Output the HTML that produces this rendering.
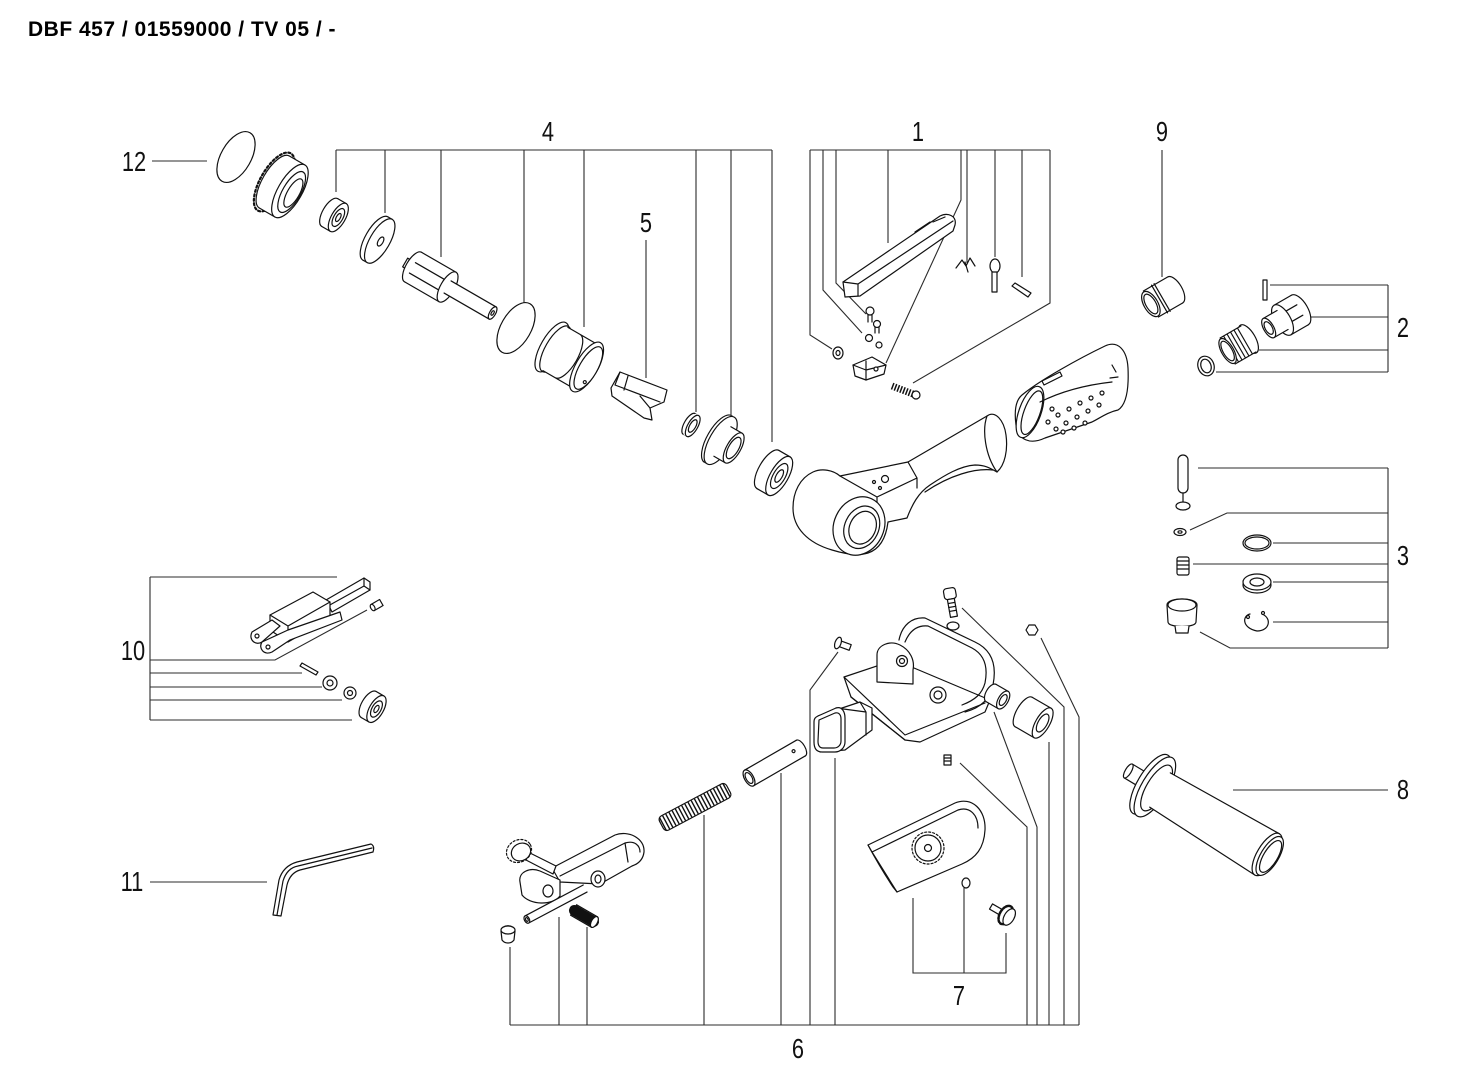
<!DOCTYPE html>
<html><head><meta charset="utf-8">
<style>
html,body{margin:0;padding:0;background:#fff;}
svg{display:block}
.h{font-family:"Liberation Sans",sans-serif;font-weight:bold;font-size:21px;letter-spacing:0.5px;fill:#000}
.n{font-family:"Liberation Sans",sans-serif;font-size:28px;fill:#111}
.l{stroke:#2b2b2b;stroke-width:1.1;fill:none}
.p{stroke:#111;stroke-width:1.2;fill:#fff;stroke-linejoin:round;stroke-linecap:round}
.f{fill:none}
</style></head><body>
<svg width="1482" height="1070" viewBox="0 0 1482 1070" xmlns="http://www.w3.org/2000/svg">
<rect width="1482" height="1070" fill="#fff"/>
<text class="h" x="28" y="36">DBF 457 / 01559000 / TV 05 / -</text>

<!-- labels -->
<g class="n" text-anchor="middle">
<text transform="translate(134,171) scale(0.78,1)">12</text>
<text transform="translate(548,141) scale(0.78,1)">4</text>
<text transform="translate(646,232) scale(0.78,1)">5</text>
<text transform="translate(918,141) scale(0.78,1)">1</text>
<text transform="translate(1162,141) scale(0.78,1)">9</text>
<text transform="translate(1403,337) scale(0.78,1)">2</text>
<text transform="translate(1403,565) scale(0.78,1)">3</text>
<text transform="translate(1403,799) scale(0.78,1)">8</text>
<text transform="translate(133,660) scale(0.78,1)">10</text>
<text transform="translate(132,891) scale(0.78,1)">11</text>
<text transform="translate(959,1005) scale(0.78,1)">7</text>
<text transform="translate(798,1058) scale(0.78,1)">6</text>
</g>

<!-- leader lines -->
<path class="l" d="
M152,161 H207
M336,150 H772 M336,150 V192 M385,150 V213 M441,150 V257 M524,150 V303 M584,150 V327 M696,150 V412 M731,150 V415 M772,150 V442
M646,240 V378
M810,150 H1050 M810,150 V335 L832,349 M823,150 V290 L862,333 M836,150 V283 L866,314 M888,150 V243 M961,150 V200 L886,363 M967,150 V263 M995,150 V257 M1022,150 V277 M1050,150 V303 L913,383
M1162,150 V277
M1388,285 V372 M1270,285 H1388 M1311,317 H1388 M1259,350 H1388 M1216,372 H1388
M1388,468 V648 M1198,468 H1388 M1190,530 L1227,513 H1388 M1273,543 H1388 M1193,564 H1388 M1273,582 H1388 M1273,622 H1388 M1200,632 L1230,648 H1388
M1233,790 H1388
M150,577 V720 M150,577 H337 M150,660 H275 L367,610 M150,673 H302 M150,687 H322 M150,700 H342 M150,720 H352
M150,882 H267
M510,1025 H1079 M510,947 V1025 M559,917 V1025 M587,927 V1025 M704,815 V1025 M781,773 V1025 M838,652 L810,690 V1025 M835,758 V1025 M960,763 L1027,827 V1025 M994,712 L1037,827 V1025 M1049,742 V1025 M962,608 L1064,707 V1025 M1041,638 L1079,717 V1025
M913,898 V973 H1006 V933 M964,888 V973
"/>

<!-- 12 O-ring -->
<g transform="translate(236,157) rotate(30)"><ellipse rx="15" ry="28" fill="none" stroke="#111" stroke-width="1.2"/></g>

<!-- ring nut -->
<g class="p" transform="translate(283,187) rotate(30)">
 <ellipse cx="-10" rx="14" ry="33" stroke-dasharray="2 2.5" stroke-width="2.2"/>
 <ellipse cx="-10" rx="12" ry="30"/>
 <rect x="-10" y="-30" width="18" height="60" stroke="none"/>
 <path class="f" d="M-10,-30H8M-10,30H8"/>
 <ellipse cx="8" rx="12" ry="30"/>
 <ellipse cx="10" rx="9" ry="23"/>
 <ellipse cx="12" rx="6" ry="16"/>
</g>

<!-- small bearing -->
<g class="p" transform="translate(334,215) rotate(30)">
 <ellipse cx="-5" rx="7" ry="16"/>
 <rect x="-5" y="-16" width="10" height="32" stroke="none"/>
 <path class="f" d="M-5,-16H5M-5,16H5"/>
 <ellipse cx="5" rx="7" ry="16"/>
 <ellipse cx="5" rx="4.5" ry="10"/>
 <ellipse cx="5" rx="2" ry="4.5"/>
</g>

<!-- disc -->
<g class="p" transform="translate(378,240) rotate(30)">
 <ellipse cx="-3" rx="10" ry="25"/>
 <rect x="-3" y="-25" width="5" height="50" stroke="none"/>
 <path class="f" d="M-3,-25H2M-3,25H2"/>
 <ellipse cx="2" rx="10" ry="25"/>
 <ellipse cx="3" rx="2.5" ry="5"/>
</g>

<!-- rotor -->
<g class="p" transform="translate(432,278) rotate(30)">
 <rect x="-31" y="-5" width="10" height="10"/>
 <ellipse cx="-22" rx="7" ry="17"/>
 <rect x="-22" y="-17" width="40" height="34" stroke="none"/>
 <path class="f" d="M-22,-17H18M-22,17H18M-22,-5H18M-22,7H18"/>
 <ellipse cx="18" rx="7" ry="17"/>
 <rect x="18" y="-7" width="52" height="14" stroke="none"/>
 <path class="f" d="M18,-7H70M18,7H70"/>
 <ellipse cx="70" rx="3" ry="7"/>
 <ellipse cx="70" rx="1.2" ry="2.5"/>
</g>

<!-- O-ring 4 -->
<g transform="translate(516,328) rotate(30)"><ellipse rx="15" ry="28" fill="none" stroke="#111" stroke-width="1.2"/></g>

<!-- sleeve -->
<g class="p" transform="translate(571,358) rotate(30)">
 <ellipse cx="-22" rx="11" ry="28"/>
 <ellipse cx="-18" rx="10" ry="26"/>
 <rect x="-18" y="-25" width="36" height="50" stroke="none"/>
 <path class="f" d="M-18,-25H18M-18,25H18M-4,-25 A10,25 0 0 1 -4,25"/>
 <ellipse cx="18" rx="11" ry="28"/>
 <ellipse cx="20" rx="9" ry="24"/>
 <circle cx="24" cy="14" r="1.5"/>
</g>

<!-- vane 5 -->
<path class="p" d="M611,388 L620,372 L667,390 L664,402 L650,408 L652,420 L644,418 L612,396 Z"/>
<path class="p f" d="M620,372 L615,385 L660,402 M628,376 L624,390 M640,396 L650,408"/>

<!-- small ring -->
<g class="p" transform="translate(691,425) rotate(30)">
 <ellipse cx="-2" rx="5" ry="12"/>
 <rect x="-2" y="-12" width="4" height="24" stroke="none"/>
 <ellipse cx="2" rx="5" ry="12"/>
 <ellipse cx="2" rx="3" ry="7"/>
</g>

<!-- bearing plate -->
<g class="p" transform="translate(725,443) rotate(30)">
 <ellipse cx="-8" rx="11" ry="27"/>
 <rect x="-8" y="-27" width="3" height="54" stroke="none"/>
 <ellipse cx="-5" rx="11" ry="27"/>
 <rect x="-5" y="-17" width="15" height="34" stroke="none"/>
 <path class="f" d="M-3,-17H10M-3,17H10"/>
 <ellipse cx="10" rx="7" ry="17"/>
 <ellipse cx="10" rx="5" ry="12"/>
</g>

<!-- bearing -->
<g class="p" transform="translate(774,473) rotate(30)">
 <ellipse cx="-7" rx="9" ry="22"/>
 <rect x="-7" y="-22" width="13" height="44" stroke="none"/>
 <path class="f" d="M-7,-22H6M-7,22H6"/>
 <ellipse cx="6" rx="9" ry="22"/>
 <ellipse cx="6" rx="6" ry="14"/>
 <ellipse cx="6" rx="3" ry="7"/>
</g>

<!-- housing -->
<path class="p" d="M813,472 C800,478 793,492 793,508 C793,528 808,543 832,550 C845,554 858,556 868,553 C880,549 886,538 888,522 L907,518 C912,505 918,493 930,485 C945,475 960,466 975,465 C985,465 990,468 997,472 C1005,465 1008,450 1006,435 C1004,420 995,410 987,416 L908,462 L840,476 C833,470 822,468 813,472 Z"/>
<path class="p f" d="M840,476 L877,497 L917,478 L908,462 M877,497 L877,507 M917,478 L917,488 M925,492 C950,475 975,468 993,470 M987,416 C982,430 985,455 997,472"/>
<g class="p" transform="translate(859,526) rotate(25)">
 <ellipse rx="25" ry="30"/>
 <ellipse cx="3" rx="17" ry="22"/>
 <ellipse cx="4" rx="13" ry="17"/>
</g>
<circle class="p" cx="885" cy="479" r="3.5"/>
<circle class="p" cx="874" cy="482" r="1.5"/>
<circle class="p" cx="880" cy="488" r="1.5"/>

<!-- grip -->
<path class="p" d="M1022,395 C1040,380 1080,358 1105,346 C1118,340 1127,350 1128,368 C1129,390 1126,405 1118,410 C1108,412 1100,418 1092,422 L1045,438 C1030,445 1018,440 1016,425 C1014,410 1016,400 1022,395 Z"/>
<g class="p" transform="translate(1030,412) rotate(20)"><ellipse rx="11" ry="27"/><ellipse cx="2" rx="8" ry="23" fill="none"/></g>
<path class="p f" d="M1040,402 C1060,392 1085,385 1112,382"/>
<path class="p" d="M1042,381 L1060,372 L1062,376 L1044,385 Z"/>
<g class="p">
<circle cx="1048" cy="422" r="2"/><circle cx="1056" cy="429" r="2"/><circle cx="1058" cy="415" r="2"/><circle cx="1066" cy="423" r="2"/><circle cx="1069" cy="409" r="2"/><circle cx="1077" cy="417" r="2"/><circle cx="1080" cy="403" r="2"/><circle cx="1088" cy="411" r="2"/><circle cx="1091" cy="398" r="2"/><circle cx="1099" cy="405" r="2"/><circle cx="1102" cy="393" r="2"/><circle cx="1052" cy="409" r="2"/><circle cx="1063" cy="432" r="2"/><circle cx="1074" cy="428" r="2"/><circle cx="1085" cy="423" r="2"/>
</g>
<path class="p f" d="M1112,365 L1116,372 M1110,378 L1118,377"/>

<!-- part 1 pieces -->
<path class="p" d="M843,282 L940,216 C948,212 957,216 955,225 L953,231 L860,296 L845,297 Z"/>
<path class="p f" d="M843,282 L858,284 L858,296 M858,284 L953,221 M915,232 L930,222 M933,222 L945,217"/>
<path class="p f" d="M956,268 L962,260 L966,266 L970,258 L975,266 M965,262 L968,272"/>
<ellipse class="p" cx="995" cy="266" rx="5" ry="7"/>
<path class="p" d="M992,272 L992,292 L997,292 L997,272 Z"/>
<path class="p" d="M1012,286 L1015,283 L1031,293 L1028,297 Z"/>
<circle class="p" cx="870" cy="311" r="4"/><path class="p f" d="M868,315 V322 M872,315 V322"/>
<circle class="p" cx="877" cy="324" r="3.5"/><path class="p f" d="M875,327 V333 M879,327 V333"/>
<circle class="p" cx="869" cy="338" r="3.5"/><circle class="p" cx="879" cy="345" r="3"/>
<ellipse class="p" cx="838" cy="353" rx="5" ry="6"/><ellipse class="p" cx="838" cy="353" rx="2" ry="2.5"/>
<path class="p" d="M853,365 L872,357 L886,365 L884,374 L866,380 L855,376 Z"/>
<path class="p f" d="M866,361 L866,380 M853,365 L866,370 L886,365"/>
<circle class="p" cx="876" cy="369" r="2"/>
<line x1="892" y1="386" x2="913" y2="394" stroke="#111" stroke-width="7" stroke-dasharray="1.5 1.5"/>
<circle class="p" cx="916" cy="395" r="4"/>

<!-- part 9 -->
<g class="p" transform="translate(1163,297) rotate(-30)">
 <ellipse cx="14" rx="7" ry="15"/>
 <rect x="-14" y="-15" width="28" height="30" stroke="none"/>
 <path class="f" d="M-14,-15H14M-14,15H14M-4,-16V16M-1,-16V16"/>
 <ellipse cx="-14" rx="7" ry="14"/>
 <ellipse cx="-14" rx="5" ry="11"/>
</g>

<!-- part 2 -->
<rect class="p" x="1263" y="280" width="4" height="20"/>
<g class="p" transform="translate(1286,318) rotate(-30)">
 <ellipse cx="16" rx="8" ry="17"/>
 <rect x="-4" y="-17" width="20" height="34" stroke="none"/>
 <path class="f" d="M-4,-17H16M-4,17H16M-4,-6H16M-4,6H16"/>
 <ellipse cx="-4" rx="8" ry="17"/>
 <rect x="-20" y="-11" width="16" height="22" stroke="none"/>
 <path class="f" d="M-20,-11H-4M-20,11H-4"/>
 <ellipse cx="-20" rx="5" ry="11"/>
 <ellipse cx="-20" rx="3.5" ry="7"/>
</g>
<g class="p" transform="translate(1238,345) rotate(-30)">
 <ellipse cx="12" rx="7" ry="16"/>
 <rect x="-12" y="-15" width="24" height="30" stroke="none"/>
 <path class="f" d="M-12,-15H12M-12,15H12M-8,-15V15M-4,-15V15M0,-15V15M4,-15V15M8,-15V15"/>
 <ellipse cx="-12" rx="6" ry="14"/>
 <ellipse cx="-12" rx="4.5" ry="11"/>
</g>
<g class="p" transform="translate(1206,366) rotate(-20)"><ellipse rx="8" ry="10"/><ellipse rx="5" ry="7"/></g>

<!-- part 3 -->
<rect class="p" x="1178" y="455" width="10" height="38" rx="5"/>
<path class="p f" d="M1183,493 V503"/>
<ellipse class="p" cx="1183" cy="506" rx="7" ry="4"/>
<ellipse class="p" cx="1180" cy="532" rx="6" ry="3.5"/><ellipse class="p" cx="1180" cy="532" rx="2" ry="1.2"/>
<ellipse class="p" cx="1257" cy="543" rx="14" ry="8"/><ellipse class="p" cx="1257" cy="543" rx="12" ry="6"/>
<rect class="p" x="1177" y="557" width="12" height="18" rx="2"/>
<path class="p f" d="M1177,561H1189M1177,565H1189M1177,569H1189"/>
<ellipse class="p" cx="1257" cy="585" rx="14" ry="8"/>
<ellipse class="p" cx="1257" cy="582" rx="14" ry="8"/><ellipse class="p" cx="1257" cy="582" rx="7" ry="4"/>
<path class="p" d="M1167,605 C1167,597 1197,597 1197,605 L1196,622 C1196,628 1168,628 1168,622 Z"/>
<ellipse class="p" cx="1182" cy="605" rx="14" ry="6"/>
<path class="p" d="M1175,626 L1176,633 L1188,633 L1189,626"/>
<path class="p f" d="M1250,614 C1242,616 1242,628 1257,631 C1270,631 1272,618 1262,614"/>
<circle class="p" cx="1248" cy="617" r="1.5"/><circle class="p" cx="1263" cy="613" r="1.5"/>

<!-- part 8 handle -->
<g class="p" transform="translate(1130,772) rotate(31)">
 <rect x="-2" y="-8" width="26" height="16"/>
 <ellipse cx="-2" rx="3" ry="8"/>
 <ellipse cx="24" rx="13" ry="34"/>
 <ellipse cx="29" rx="13" ry="34"/>
 <ellipse cx="31" rx="10" ry="26"/>
 <path d="M35,-20 L160,-24 L160,24 L35,20 Z" stroke="none"/>
 <path class="f" d="M35,-20 L160,-24 M35,20 L160,24"/>
 <ellipse cx="160" rx="10" ry="24"/>
 <ellipse cx="163" rx="9" ry="22"/>
 <ellipse cx="164" rx="7" ry="18"/>
</g>

<!-- part 10 -->
<path class="p" d="M326,600 L364,578 L370,582 L370,590 L332,612 Z"/>
<path class="p f" d="M364,578 L364,586 L370,590 M364,586 L328,606"/>
<path class="p" d="M270,615 L313,592 L330,602 L330,618 L288,642 L270,630 Z"/>
<path class="p f" d="M270,615 L288,626 L330,602 M288,626 L288,642"/>
<path class="p" d="M252,632 L272,620 L280,626 L262,642 C256,646 248,640 252,632 Z"/>
<path class="p" d="M262,642 L288,630 L340,612 L342,620 L290,640 L272,652 C264,656 258,648 262,642 Z"/>
<circle class="p" cx="257" cy="636" r="2"/><circle class="p" cx="268" cy="647" r="2"/>
<g class="p" transform="translate(377,605) rotate(-30)"><rect x="-5" y="-3.5" width="10" height="7"/><ellipse cx="-5" rx="2" ry="3.5"/></g>
<path class="p" d="M300,666 L302,663 L318,672 L316,675 Z"/>
<circle class="p" cx="330" cy="683" r="7"/><circle class="p" cx="330" cy="683" r="3"/>
<circle class="p" cx="350" cy="693" r="6"/><circle class="p" cx="350" cy="693" r="2.5"/>
<g class="p" transform="translate(373,707) rotate(30)">
 <ellipse cx="-5" rx="7" ry="15"/>
 <rect x="-5" y="-15" width="9" height="30" stroke="none"/>
 <path class="f" d="M-5,-15H4M-5,15H4"/>
 <ellipse cx="4" rx="7" ry="15"/>
 <ellipse cx="4" rx="4.5" ry="9"/>
 <ellipse cx="4" rx="2" ry="4"/>
</g>

<!-- part 11 hex key -->
<path class="p" d="M273,915 L279,880 Q283,866 297,862 L371,844 Q375,846 373,852 L300,870 Q290,873 287,885 L281,916 Z"/>
<path class="p f" d="M277,915 L283,881 Q287,868 298,866 L372,848"/>

<!-- part 6 bracket -->
<path class="p" d="M844,677 L895,660 L990,700 L985,712 L920,742 L905,740 L851,697 Z"/>
<path class="p f" d="M844,677 L905,735 L985,703 M851,697 L905,740"/>
<path class="p f" d="M899,640 C902,625 912,617 925,618 L975,642 C992,650 997,665 993,685 C990,700 980,708 965,712"/>
<path class="p f" d="M905,642 C910,630 918,625 928,626 L972,648 C985,655 988,668 985,683 C982,694 975,700 962,705"/>
<path class="p" d="M877,682 L877,655 C877,645 890,640 900,645 C910,650 915,660 913,670 L913,684 Z"/>
<circle class="p" cx="902" cy="661" r="5.5"/><circle class="p" cx="902" cy="661" r="2.5"/>
<circle class="p" cx="938" cy="695" r="8"/><circle class="p" cx="938" cy="695" r="4"/>
<ellipse class="p" cx="953" cy="626" rx="6" ry="4"/>
<!-- screw top -->
<g class="p" transform="translate(951,600) rotate(-10)">
 <rect x="-6" y="-12" width="12" height="11" rx="3"/>
 <rect x="-3.5" y="-1" width="7" height="18"/>
 <path class="f" d="M-3.5,3H3.5M-3.5,7H3.5M-3.5,11H3.5"/>
</g>
<path class="p" d="M1026,630 L1029,625 L1035,625 L1038,630 L1035,635 L1029,635 Z"/>
<g class="p" transform="translate(838,643) rotate(20)"><rect x="0" y="-3" width="13" height="6"/><ellipse rx="3" ry="6"/></g>
<!-- sleeve & roller -->
<g class="p" transform="translate(998,697) rotate(30)">
 <ellipse cx="-8" rx="5" ry="10"/>
 <rect x="-8" y="-10" width="14" height="20" stroke="none"/>
 <path class="f" d="M-8,-10H6M-8,10H6"/>
 <ellipse cx="6" rx="5" ry="10"/><ellipse cx="6" rx="3" ry="6"/>
</g>
<g class="p" transform="translate(1034,718) rotate(30)">
 <ellipse cx="-12" rx="7" ry="17"/>
 <rect x="-12" y="-17" width="22" height="34" stroke="none"/>
 <path class="f" d="M-12,-17H10M-12,17H10"/>
 <ellipse cx="10" rx="7" ry="17"/><ellipse cx="10" rx="4.5" ry="10"/>
</g>
<!-- oval tube -->
<path class="p" d="M818,716 L860,702 L872,708 L872,730 L845,750 L820,752 Z"/>
<path class="p f" d="M860,702 L866,712 L866,735 M836,708 L866,712"/>
<path class="p" d="M818,716 L836,708 C842,706 845,712 845,718 L845,742 C845,748 840,752 835,752 L822,752 C816,752 814,748 814,742 L814,722 C814,718 816,717 818,716 Z"/>
<path class="p f" d="M819,720 L835,713 C839,712 841,715 841,719 L841,741 C841,745 838,748 834,748 L823,748 C819,748 818,745 818,741 Z"/>
<!-- pin tube -->
<g class="p" transform="translate(775,763) rotate(-30)">
 <ellipse cx="30" rx="4" ry="9"/>
 <rect x="-30" y="-9" width="60" height="18" stroke="none"/>
 <path class="f" d="M-30,-9H30M-30,9H30"/>
 <ellipse cx="-30" rx="4.5" ry="9"/><ellipse cx="-30" rx="3" ry="6"/>
 <circle cx="22" cy="-1" r="1.5"/>
</g>
<!-- spring -->
<g transform="translate(695,807) rotate(-28)">
 <rect class="p" x="-38" y="-8" width="76" height="16" rx="4"/>
 <line x1="-37" y1="0" x2="37" y2="0" stroke="#111" stroke-width="15" stroke-dasharray="1.4 2.2"/>
</g>
<!-- set screw -->
<rect class="p" x="944" y="755" width="7" height="10"/>
<path class="p f" d="M944,758H951M944,761H951"/>
<!-- shield 7 -->
<path class="p" d="M868,845 L955,803 C972,796 986,810 985,830 C984,848 976,858 962,864 L897,892 L893,887 C885,875 875,858 868,845 Z"/>
<path class="p f" d="M872,852 L958,810 C970,806 978,815 978,828 M868,845 L872,852 L897,892"/>
<circle class="p" cx="928" cy="848" r="16" stroke-dasharray="2 2"/>
<circle class="p" cx="928" cy="848" r="13"/>
<circle class="p" cx="928" cy="848" r="3.5"/>
<ellipse class="p" cx="966" cy="883" rx="4" ry="5"/>
<g class="p" transform="translate(1004,914) rotate(30)">
 <rect x="-15" y="-3" width="12" height="6"/>
 <ellipse cx="2" rx="6" ry="10" stroke-dasharray="1.5 1.5" stroke-width="2.5"/>
 <ellipse cx="6" rx="5" ry="9"/>
</g>
<!-- lever assembly -->
<path class="p" d="M552,868 L615,835 C628,830 645,838 644,852 C643,860 638,864 632,866 L600,884 L560,882 Z"/>
<path class="p f" d="M560,876 L625,843 C635,840 640,846 640,852 M625,843 L628,862"/>
<path class="p" d="M528,852 L556,866 L553,874 L526,860 Z"/>
<ellipse class="p" cx="519" cy="851" rx="13" ry="11" transform="rotate(-30 519 851)" stroke-dasharray="2 2" stroke-width="2"/>
<ellipse class="p" cx="521" cy="852" rx="10" ry="8.5" transform="rotate(-30 521 852)"/>
<path class="p" d="M520,882 C518,872 530,867 540,871 L560,880 L560,896 C552,906 530,905 522,895 Z"/>
<ellipse class="p" cx="548" cy="891" rx="5" ry="6"/>
<ellipse class="p" cx="598" cy="879" rx="7" ry="8"/><ellipse class="p" cx="598" cy="879" rx="3" ry="4"/>
<g class="p" transform="translate(556,904) rotate(-28)">
 <rect x="-33" y="-4" width="66" height="8" stroke="none"/>
 <path class="f" d="M-33,-4H33M-33,4H33"/>
 <ellipse cx="-33" rx="2.5" ry="4"/><ellipse cx="-33" rx="1.2" ry="2"/>
</g>
<g class="p" transform="translate(584,916) rotate(30)">
 <rect x="-12" y="-6" width="24" height="12"/>
 <line x1="-11" y1="0" x2="11" y2="0" stroke-width="11" stroke-dasharray="1.5 1.5"/>
 <ellipse cx="12" rx="3" ry="6"/>
</g>
<path class="p" d="M501,931 C501,924 515,924 515,931 L514,940 C511,944 505,944 502,940 Z"/>
<ellipse class="p" cx="508" cy="930" rx="7" ry="4"/>

</svg>
</body></html>
